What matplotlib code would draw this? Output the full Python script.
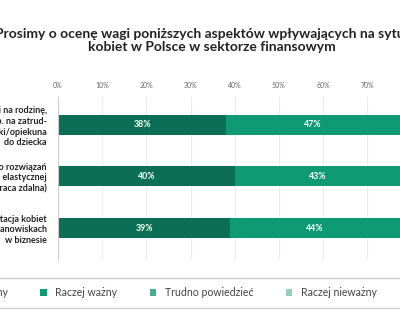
import matplotlib.pyplot as plt
from matplotlib.patches import Patch
from matplotlib.lines import Line2D

plt.rcParams['font.family'] = ['Lato', 'DejaVu Sans']

categories = [
    "Ulgi na rodzinę,\n(np. na zatrud-\nnienie niańki/opiekuna\ndo dziecka",
    "Dostęp do rozwiązań\nw zakresie elastycznej\npracy (np. praca zdalna)",
    "Reprezentacja kobiet\nna wysokich stanowiskach\nw biznesie",
]
bardzo_wazny = [38, 40, 39]
raczej_wazny = [47, 43, 44]
series_names = ["Bardzo ważny", "Raczej ważny", "Trudno powiedzieć",
                "Raczej nieważny", "Zupełnie nieważny"]
series_colors = ["#0b6e55", "#0e9a73", "#45ad8c", "#95cfb9", "#bfe0d3"]
ticks = [0, 10, 20, 30, 40, 50, 60, 70]

title = ("Prosimy o ocenę wagi poniższych aspektów wpływających na sytuację\n"
         "kobiet w Polsce w sektorze finansowym")

fig = plt.figure(figsize=(4.0, 3.23), dpi=100)
ax = fig.add_axes([58 / 400, 63 / 323, 1 - 58 / 400, 163 / 323])

y = range(len(categories))
bars1 = ax.barh(y, bardzo_wazny, height=0.39, color=series_colors[0])
bars2 = ax.barh(y, raczej_wazny, left=bardzo_wazny, height=0.39, color=series_colors[1])
for bars in (bars1, bars2):
    ax.bar_label(bars, labels=[f"{b.get_width():.0f}%" for b in bars],
                 label_type='center', color='white', fontsize=6.3, fontweight='bold')

ax.set_xlim(0, 77.4)
ax.set_ylim(2.62, -0.54)
ax.set_yticks(list(y))
ax.set_yticklabels(categories, fontsize=6.5, fontweight='bold', color='#222222',
                   linespacing=1.2)
ax.tick_params(axis='y', length=0, pad=8)
ax.xaxis.tick_top()
ax.set_xticks(ticks)
ax.set_xticklabels([f"{t}%" for t in ticks], fontsize=5, color='#666666')
ax.tick_params(axis='x', length=0, pad=6)
ax.grid(axis='x', color='#ececec', linewidth=0.8)
ax.set_axisbelow(True)
for s in ['top', 'right', 'bottom']:
    ax.spines[s].set_visible(False)
ax.spines['left'].set_color('#cccccc')
ax.spines['left'].set_linewidth(0.8)

fig.text(212 / 400, 1 - 40.5 / 323, title, ha='center', va='center',
         fontsize=10, fontweight='bold', color='#222222', linespacing=1.1)

handles = [Patch(facecolor=c, label=n) for n, c in zip(series_names, series_colors)]
fig.legend(handles=handles, ncol=5, loc='center left',
           bbox_to_anchor=(-72 / 400, 1 - 293 / 323), frameon=False,
           fontsize=7.6, handlelength=0.6, handleheight=0.6, handletextpad=0.8,
           columnspacing=3.1, borderpad=0, borderaxespad=0, labelcolor='#444444')

for yy in (278, 308):
    fig.add_artist(Line2D([0, 1], [1 - yy / 323] * 2, transform=fig.transFigure,
                          color='#cfcfcf', linewidth=1))

fig.savefig('out.png', dpi=100)
